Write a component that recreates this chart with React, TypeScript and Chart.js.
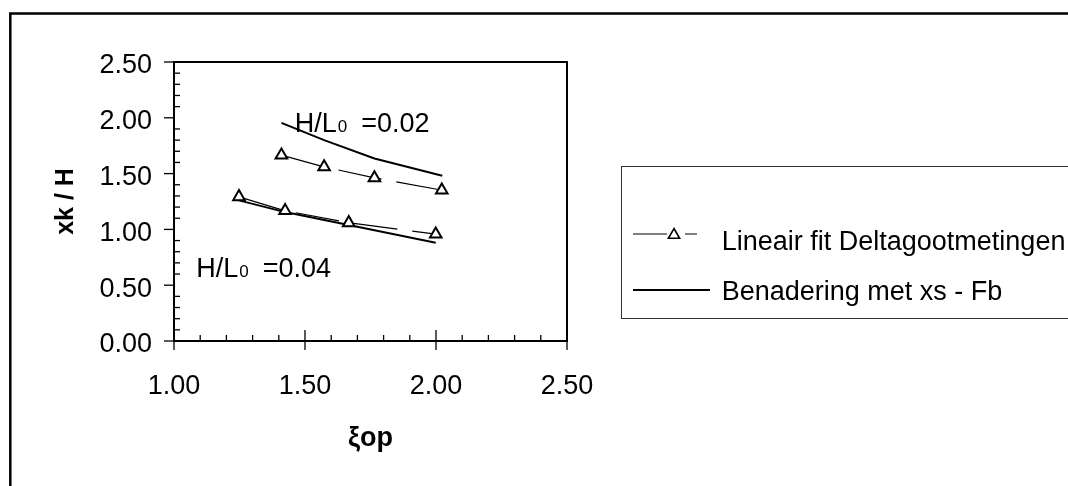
import React, { useEffect, useRef } from "react";
import { Chart, registerables } from "chart.js";

Chart.register(...registerables);

const FONT = "'Liberation Sans', Arial, Helvetica, sans-serif";

// ---- data ----
const xTickLabels = ["1.00", "1.50", "2.00", "2.50"];
const yTickLabels = ["0.00", "0.50", "1.00", "1.50", "2.00", "2.50"];

const seriesNames = ["Lineair fit Deltagootmetingen", "Benadering met xs - Fb"];

// Lineair fit Deltagootmetingen (H/L0 = 0.02 and 0.04)
const fitX002 = [1.41, 1.573, 1.765, 2.022];
const fitY002 = [1.665, 1.56, 1.462, 1.352];
const fitX004 = [1.248, 1.424, 1.667, 1.999];
const fitY004 = [1.292, 1.167, 1.059, 0.958];

// Benadering met xs - Fb (H/L0 = 0.02 and 0.04)
const approxX002 = [1.41, 1.573, 1.765, 2.024];
const approxY002 = [1.955, 1.8, 1.636, 1.48];
const approxX004 = [1.248, 1.424, 1.667, 1.999];
const approxY004 = [1.26, 1.155, 1.04, 0.88];

// annotations "H/L0 =..."
const annotationValues = ["=0.02", "=0.04"];
const annotationX = [1.461, 1.085];
const annotationY = [1.874, 0.576];

const xTitle = "ξop";
const yTitle = "xk / H";

const toPoints = (xs: number[], ys: number[]) => xs.map((x, i) => ({ x, y: ys[i] }));

const decorPlugin = {
  id: "decor",
  beforeDatasetsDraw(chart: any) {
    const { ctx, chartArea: a } = chart;
    const ax = chart.scales.x;
    const ay = chart.scales.y;
    ctx.save();
    ctx.strokeStyle = "#000";
    // outer frame
    ctx.lineWidth = 2.5;
    ctx.beginPath();
    ctx.moveTo(10.3, 500);
    ctx.lineTo(10.3, 13.5);
    ctx.lineTo(1100, 13.5);
    ctx.stroke();
    // plot border
    ctx.lineWidth = 2;
    ctx.strokeRect(a.left, a.top, a.right - a.left, a.bottom - a.top);
    // ticks
    ctx.lineWidth = 1.3;
    const minorStep = 0.1;
    const majorStep = 0.5;
    const seg = (x1: number, y1: number, x2: number, y2: number) => {
      ctx.beginPath();
      ctx.moveTo(x1, y1);
      ctx.lineTo(x2, y2);
      ctx.stroke();
    };
    const ny = Math.round((ay.max - ay.min) / minorStep);
    for (let i = 0; i <= ny; i++) {
      const v = ay.min + i * minorStep;
      const py = ay.getPixelForValue(v);
      const r = v / majorStep;
      if (Math.abs(r - Math.round(r)) < 1e-6) seg(a.left - 10, py, a.left, py);
      else seg(a.left, py, a.left + 6, py);
    }
    const nx = Math.round((ax.max - ax.min) / minorStep);
    for (let i = 0; i <= nx; i++) {
      const v = ax.min + i * minorStep;
      const px = ax.getPixelForValue(v);
      const r = v / majorStep;
      if (Math.abs(r - Math.round(r)) < 1e-6) seg(px, a.bottom - 11, px, a.bottom + 9);
      else seg(px, a.bottom - 6, px, a.bottom);
    }
    ctx.restore();
  },
  afterDraw(chart: any) {
    const { ctx } = chart;
    const ax = chart.scales.x;
    const ay = chart.scales.y;
    ctx.save();
    ctx.fillStyle = "#000";
    ctx.textBaseline = "alphabetic";
    // annotations
    annotationValues.forEach((val, i) => {
      let px = ax.getPixelForValue(annotationX[i]);
      const py = ay.getPixelForValue(annotationY[i]);
      ctx.font = `27px ${FONT}`;
      ctx.fillText("H/L", px, py);
      px += ctx.measureText("H/L").width + 1;
      ctx.font = `17px ${FONT}`;
      ctx.fillText("0", px, py);
      px += ctx.measureText("0").width + 14;
      ctx.font = `27px ${FONT}`;
      ctx.fillText(val, px, py);
    });

    // legend box
    ctx.strokeStyle = "#333";
    ctx.lineWidth = 1;
    ctx.strokeRect(621.5, 166.5, 600, 152);
    const dsFit = chart.data.datasets[0];
    const dsApprox = chart.data.datasets[2];
    // row 1
    ctx.strokeStyle = dsFit.borderColor;
    ctx.lineWidth = dsFit.borderWidth;
    ctx.setLineDash([34, 18]);
    ctx.beginPath();
    ctx.moveTo(633, 234);
    ctx.lineTo(697, 234);
    ctx.stroke();
    ctx.setLineDash([]);
    // triangle marker
    const r = 6.5;
    const cx = 674;
    const cy = 235;
    ctx.beginPath();
    ctx.moveTo(cx, cy - r);
    ctx.lineTo(cx + r * Math.sin((2 * Math.PI) / 3), cy - r * Math.cos((2 * Math.PI) / 3));
    ctx.lineTo(cx + r * Math.sin((4 * Math.PI) / 3), cy - r * Math.cos((4 * Math.PI) / 3));
    ctx.closePath();
    ctx.fillStyle = "#fff";
    ctx.fill();
    ctx.lineWidth = 1.6;
    ctx.strokeStyle = "#000";
    ctx.stroke();
    // row 2
    ctx.strokeStyle = dsApprox.borderColor;
    ctx.lineWidth = 1.8;
    ctx.beginPath();
    ctx.moveTo(633, 290);
    ctx.lineTo(710, 290);
    ctx.stroke();
    ctx.fillStyle = "#000";
    ctx.font = `27px ${FONT}`;
    ctx.fillText(dsFit.label, 721.7, 250);
    ctx.fillText(dsApprox.label, 721.7, 299.5);
    ctx.restore();
  },
};

export default function App() {
  const ref = useRef<HTMLCanvasElement | null>(null);
  useEffect(() => {
    if (!ref.current) return;
    const fitStyle = {
      borderColor: "#000",
      borderWidth: 1.2,
      borderDash: [44, 15],
      pointStyle: "triangle",
      pointRadius: 6.7,
      pointBorderWidth: 2,
      pointBackgroundColor: "#fff",
      pointBorderColor: "#000",
      fill: false,
      tension: 0,
    };
    const approxStyle = {
      borderColor: "#000",
      borderWidth: 2,
      pointRadius: 0,
      fill: false,
      tension: 0,
    };
    const chart = new Chart(ref.current, {
      type: "line",
      data: {
        datasets: [
          { label: seriesNames[0], data: toPoints(fitX002, fitY002), ...fitStyle },
          { label: seriesNames[0], data: toPoints(fitX004, fitY004), ...fitStyle },
          { label: seriesNames[1], data: toPoints(approxX002, approxY002), ...approxStyle },
          { label: seriesNames[1], data: toPoints(approxX004, approxY004), ...approxStyle },
        ] as any,
      },
      options: {
        animation: false,
        responsive: false,
        layout: { padding: { top: 62, right: 501, left: 0, bottom: 0 } },
        plugins: { legend: { display: false }, tooltip: { enabled: false } },
        scales: {
          x: {
            type: "linear",
            min: 1,
            max: 2.5,
            grid: { display: false, drawTicks: false },
            border: { display: false },
            ticks: {
              stepSize: 0.5,
              padding: 29,
              color: "#000",
              font: { family: FONT, size: 27 },
              callback: (_v: any, i: number) => xTickLabels[i],
            },
            title: {
              display: true,
              text: xTitle,
              color: "#000",
              font: { family: FONT, size: 27, weight: "bold" },
              padding: { top: 0, bottom: 31 },
            },
            afterFit: (s: any) => {
              s.height = 145;
            },
          },
          y: {
            type: "linear",
            min: 0,
            max: 2.5,
            grid: { display: false, drawTicks: false },
            border: { display: false },
            ticks: {
              stepSize: 0.5,
              padding: 22,
              labelOffset: 4,
              color: "#000",
              font: { family: FONT, size: 27 },
              callback: (_v: any, i: number) => yTickLabels[i],
            },
            title: {
              display: true,
              text: yTitle,
              color: "#000",
              font: { family: FONT, size: 25, weight: "bold" },
              padding: { top: 51, bottom: 0 },
            },
            afterFit: (s: any) => {
              s.width = 174;
            },
          },
        },
      } as any,
      plugins: [decorPlugin],
    });
    return () => chart.destroy();
  }, []);
  return (
    <div style={{ position: "absolute", left: 0, top: 0, width: 1068, height: 486, background: "#fff" }}>
      <canvas ref={ref} width={1068} height={486} style={{ display: "block" }} />
    </div>
  );
}
